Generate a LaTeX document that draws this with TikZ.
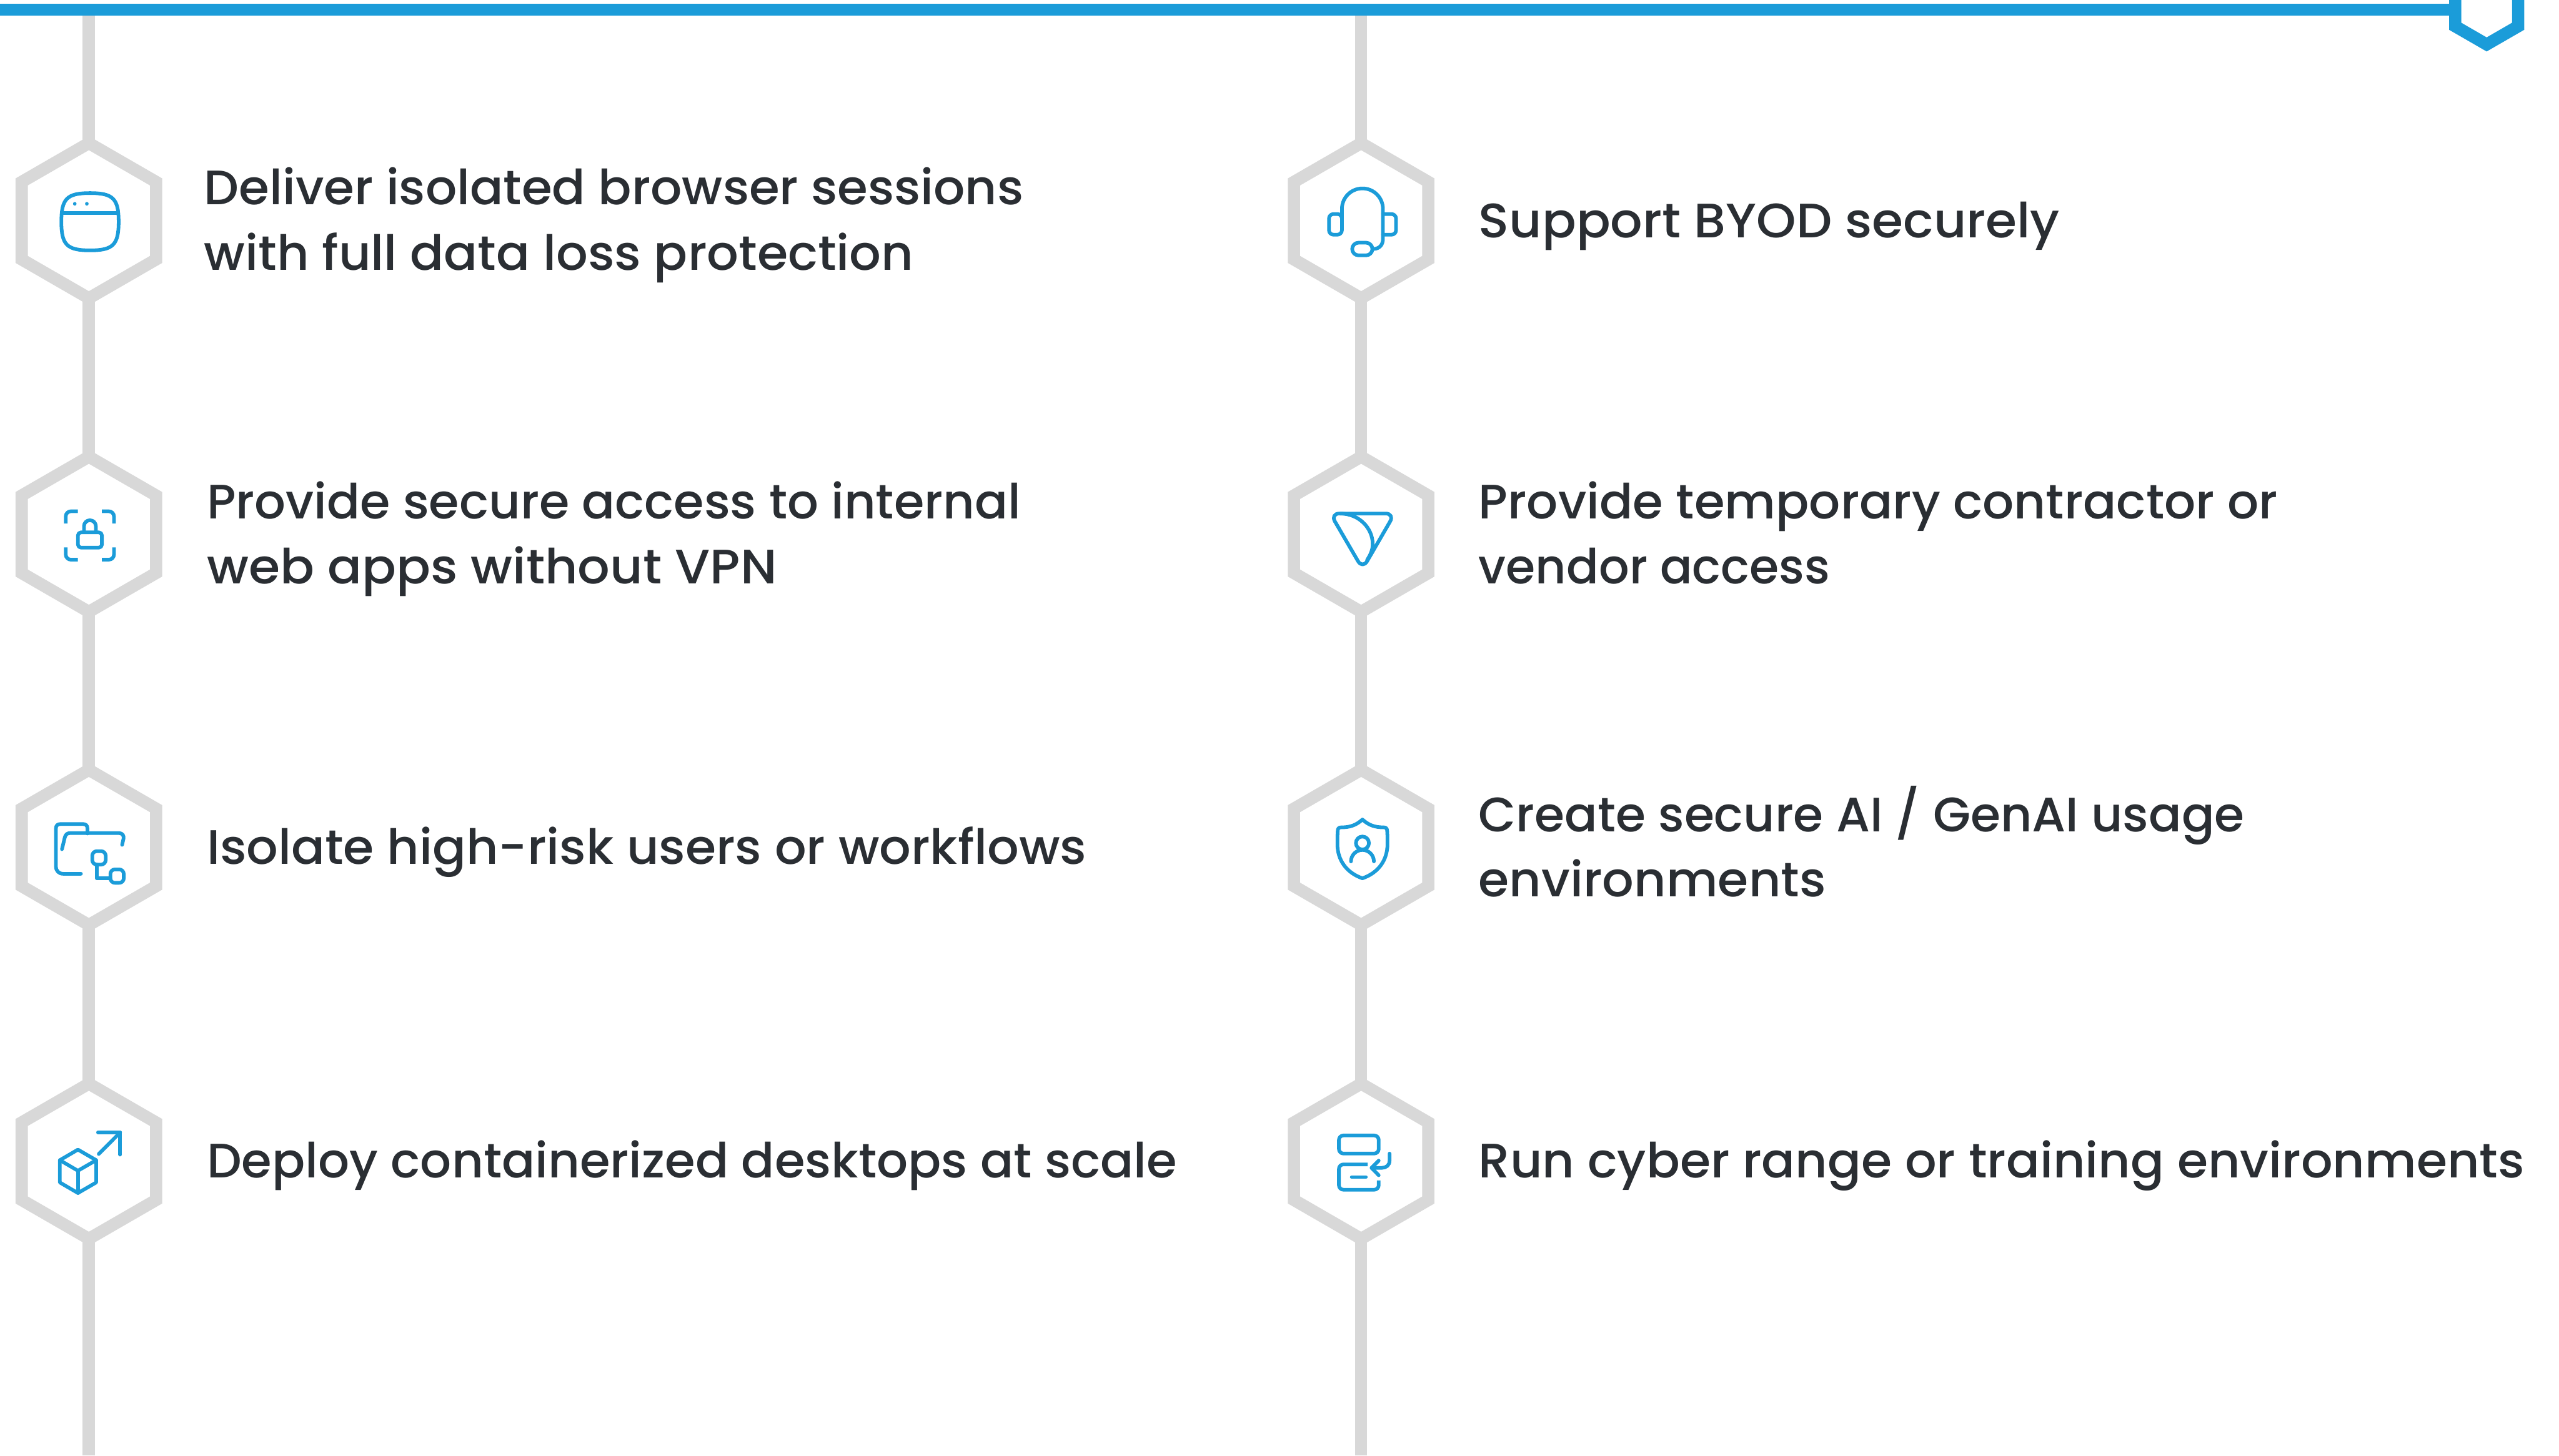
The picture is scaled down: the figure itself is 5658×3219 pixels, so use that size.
\documentclass[tikz,border=0pt]{standalone}
\usepackage{fontspec}
\setmainfont{Poppins}[UprightFont={* Medium},FakeStretch=1.027]
\usetikzlibrary{shapes.geometric}
\definecolor{railgrey}{HTML}{D8D8D8}
\definecolor{accent}{HTML}{1B9CD9}
\definecolor{ink}{HTML}{2A2E33}
\newcommand{\tline}[2][1]{\rule{0pt}{54.5pt}\scalebox{#1}[1]{#2}\rule[-17.5pt]{0pt}{17.5pt}}
\tikzset{
  hexbox/.style={regular polygon,regular polygon sides=6,shape border rotate=30,minimum size=171.5pt,inner sep=0pt,outer sep=0pt,
    draw=railgrey,fill=white,line width=13.5pt,miter limit=10},
  hexhead/.style={hexbox,draw=accent,minimum size=80.25pt},
  rail/.style={draw=railgrey,line width=13.5pt},
  topbar/.style={draw=accent,line width=13.5pt},
  label/.style={anchor=west,align=left,inner sep=0pt,text=ink,font=\fontsize{53.5pt}{72pt}\selectfont},
  glyph/.style={draw=accent,line width=4pt,line cap=round,line join=round},
  glyphflat/.style={glyph,line cap=butt},
}
\begin{document}
\begin{tikzpicture}[x=0.5pt,y=-0.5pt]
\useasboundingbox (0,0) rectangle (5658,3219);
\clip (0,0) rectangle (5658,3219);
\fill[white] (0,0) rectangle (5658,3219);
\coordinate (barL) at (0,21.5);
\coordinate (topA) at (196.5,35);
\coordinate (topB) at (3009.5,35);
\coordinate (endA) at (196.5,3219);
\coordinate (endB) at (3009.5,3219);
\path (196.5,488) coordinate (ca) (196.5,1181.5) coordinate (cb) (196.5,1874) coordinate (cc) (196.5,2568) coordinate (cd);
\path (3009.5,488) coordinate (ce) (3009.5,1181.5) coordinate (cf) (3009.5,1874) coordinate (cg) (3009.5,2568) coordinate (ch);
\draw[rail] (topA) -- (endA);
\draw[rail] (topB) -- (endB);
\node[hexbox] (h1) at (ca) {};
\node[hexbox] (h2) at (cb) {};
\node[hexbox] (h3) at (cc) {};
\node[hexbox] (h4) at (cd) {};
\node[hexbox] (h5) at (ce) {};
\node[hexbox] (h6) at (cf) {};
\node[hexbox] (h7) at (cg) {};
\node[hexbox] (h8) at (ch) {};
\node[hexhead] (h0) at (5498,18) {};
\draw[topbar] (barL) -- (barL -| h0.west);
% labels
\node[label] (t1) at (451,488) {\tline[0.992]{Deliver isolated browser sessions}\\\tline[1.002]{with full data loss protection}};
\node[label] (t2) at (457,1181.5) {\tline[0.984]{Provide secure access to internal}\\\tline[1.02]{web apps without VPN}};
\node[label] (t3) at (457,1874) {\tline{Isolate high-risk users or workflows}};
\node[label] (t4) at (457,2568) {\tline[0.988]{Deploy containerized desktops at scale}};
\node[label] (t5) at (3269,488) {\tline[1.017]{Support BYOD securely}};
\node[label] (t6) at (3269,1181.5) {\tline[0.99]{Provide temporary contractor or}\\\tline[0.96]{vendor access}};
\node[label] (t7) at (3269,1874) {\tline[0.977]{Create secure AI / GenAI usage}\\\tline{environments}};
\node[label] (t8) at (3269,2568) {\tline{Run cyber range or training environments}};
% browser icon
\begin{scope}[shift={(0,280)},x=0.16667pt,y=-0.16667pt]
\draw[glyph] (597,441) .. controls (750,441) and (787,478) .. (787,631) .. controls (787,784) and (750,821) .. (597,821) .. controls (444,821) and (407,784) .. (407,631) .. controls (407,478) and (444,441) .. (597,441) -- cycle;
\draw[glyphflat] (407,572) -- (787,572);
\fill[accent] (496,512) circle (2pt) (576,512) circle (2pt);
\end{scope}
% lock icon
\begin{scope}[shift={(0,980)},x=0.16667pt,y=-0.16667pt]
\draw[glyphflat,rounded corners=5.7pt] (516,452) -- (436,452) -- (436,533);
\draw[glyphflat,rounded corners=5.7pt] (676,452) -- (756,452) -- (756,533);
\draw[glyphflat,rounded corners=5.7pt] (436,692) -- (436,773) -- (516,773);
\draw[glyphflat,rounded corners=5.7pt] (756,692) -- (756,773) -- (676,773);
\draw[glyph,rounded corners=3.3pt] (517,592) rectangle (676,693);
\draw[glyphflat] (557,592) -- (557,551) arc[start angle=180,end angle=360,radius=39.5] -- (636,592);
\end{scope}
% folders icon
\begin{scope}[shift={(0,1680)},x=0.16667pt,y=-0.16667pt]
\draw[glyph] (537,757) -- (420,757) .. controls (390,757) and (371,738) .. (371,708) -- (371,457) .. controls (371,437) and (381,427) .. (401,427) -- (550,427) .. controls (570,427) and (580,437) .. (580,457) -- (580,490);
\draw[glyph] (411,594) -- (430,515) .. controls (435,497) and (445,487) .. (465,487) -- (790,487) .. controls (812,487) and (824,505) .. (819,525) -- (810,565);
\draw[glyph,rounded corners=5pt] (612,607) rectangle (701,696);
\draw[glyph,rounded corners=5pt] (732,728) rectangle (821,817);
\draw[glyph] (642,696) -- (642,788) -- (732,788);
\end{scope}
% cube icon
\begin{scope}[shift={(0,2370)},x=0.16667pt,y=-0.16667pt]
\draw[glyph] (517,517) -- (638,587) -- (638,735) -- (517,805) -- (397,735) -- (397,587) -- cycle;
\draw[glyph] (397,587) -- (517,657) -- (638,587);
\draw[glyph] (517,657) -- (517,805);
\draw[glyph] (650,403) -- (797,403) -- (797,550);
\draw[glyph] (655,546) -- (797,403);
\end{scope}
% headset icon
\begin{scope}[shift={(2820,280)},x=0.16667pt,y=-0.16667pt]
\draw[glyph] (441,630) -- (441,546) arc[start angle=180,end angle=360,radius=136] -- (713,745) .. controls (713,785) and (690,810) .. (650,812);
\draw[glyph,rounded corners=5pt] (441,580) -- (355,580) -- (355,717) -- (441,717) -- cycle;
\draw[glyph,rounded corners=5pt] (713,580) -- (800,580) -- (800,717) -- (713,717);
\draw[glyph,rounded corners=7pt] (509,770) rectangle (643,854);
\end{scope}
% leaf triangle icon
\begin{scope}[shift={(2820,980)},x=0.16667pt,y=-0.16667pt]
\draw[glyph,rounded corners=10pt] (578,835) -- (364,467) -- (791,467) -- cycle;
\draw[glyph] (430,467) .. controls (550,467) and (645,560) .. (645,670) .. controls (645,710) and (630,740) .. (608,775);
\end{scope}
% shield icon
\begin{scope}[shift={(2820,1680)},x=0.16667pt,y=-0.16667pt]
\draw[glyph] (577,397) .. controls (535,435) and (495,449) .. (435,449) .. controls (420,449) and (413,458) .. (413,472) .. controls (411,500) and (411,530) .. (411,560) .. controls (411,665) and (470,750) .. (577,787) .. controls (684,750) and (743,665) .. (743,560) .. controls (743,530) and (743,500) .. (741,472) .. controls (741,458) and (734,449) .. (719,449) .. controls (659,449) and (619,435) .. (577,397) -- cycle;
\draw[glyph] (577,553) circle (7.2pt);
\draw[glyph] (501,675) arc[start angle=180,end angle=360,radius=76];
\end{scope}
% stack icon
\begin{scope}[shift={(2820,2370)},x=0.16667pt,y=-0.16667pt]
\draw[glyph,rounded corners=5pt] (421,423) rectangle (685,543);
\draw[glyphflat,rounded corners=5pt] (612,615) -- (421,615) -- (421,783) -- (685,783) -- (685,722);
\draw[glyph] (506,699) -- (600,699);
\draw[glyph] (757,543) -- (757,590) .. controls (757,620) and (735,638) .. (705,638) -- (640,638);
\draw[glyph] (685,590) -- (637,638) -- (685,687);
\end{scope}
\end{tikzpicture}
\end{document}
